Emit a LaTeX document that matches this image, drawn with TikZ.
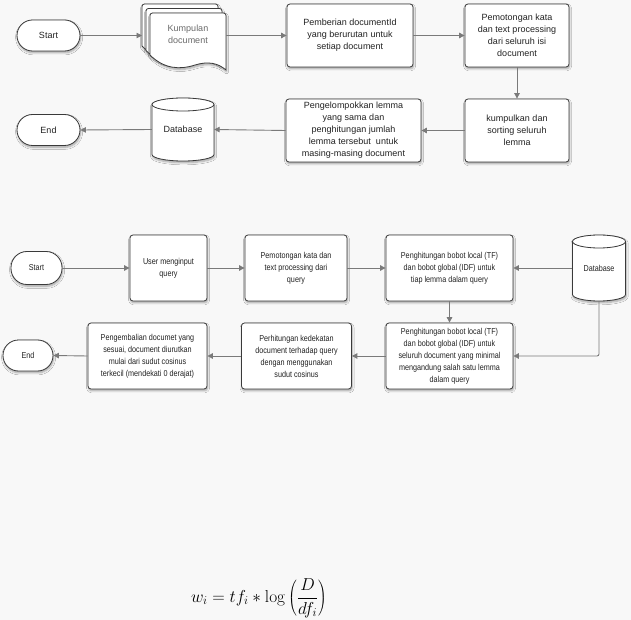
\documentclass[tikz,border=0pt]{standalone}
\usepackage[no-math]{fontspec}
\setmainfont{Liberation Sans}
\newfontfamily\narrowfont[FakeStretch=0.84]{Liberation Sans}
\usetikzlibrary{arrows.meta,shadows.blur,calc}
\definecolor{bgc}{HTML}{F8F8F8}
\definecolor{linec}{HTML}{3A3A3A}
\definecolor{arrc}{HTML}{7A7A7A}
\definecolor{txtc}{HTML}{222222}
\definecolor{graytxt}{HTML}{6A6A6A}
\tikzset{
  myshadow/.style={blur shadow={shadow xshift=0.6pt, shadow yshift=-1.8pt, shadow blur radius=2pt, shadow blur steps=6, shadow opacity=35}},
  procbox/.style={draw=linec, fill=white, line width=0.8pt, rounded corners=3pt, myshadow, align=center, inner sep=1pt, text=txtc},
  topfont/.style={font=\fontsize{9}{12}\selectfont},
  midfont/.style={font=\narrowfont\fontsize{8.6}{12}\selectfont},
  termbox/.style={draw=linec, fill=white, line width=0.8pt, myshadow, align=center, inner sep=0pt, text=txtc},
  conn/.style={draw=arrc, line width=0.9pt, -{Triangle[length=5.5pt,width=5.5pt]}},
  dbfill/.style={draw=linec, fill=white, line width=0.8pt, myshadow},
  dbedge/.style={draw=linec, line width=0.8pt},
  dbnode/.style={inner sep=0pt, align=center, text=txtc}
}
% name, cx, cy, half width, half height, ellipse ry
\newcommand{\mydbshape}[6]{%
  \path[dbfill] (#2-#4,#3-#5+#6) -- (#2-#4,#3+#5-#6)
     arc[start angle=180,end angle=360,x radius=#4pt,y radius=#6pt]
     -- (#2+#4,#3-#5+#6)
     arc[start angle=0,end angle=180,x radius=#4pt,y radius=#6pt] -- cycle;
  \draw[dbedge] (#2-#4,#3-#5+#6) arc[start angle=180,end angle=360,x radius=#4pt,y radius=#6pt];
  \node[dbnode, minimum width=2*#4pt, minimum height=2*#5pt] (#1) at (#2,#3) {};
}
% document page shape: left x, top y
\newcommand{\mydocpage}[2]{%
  \path[dbfill, rounded corners=2.5pt] (#1,#2+42) -- (#1,#2) -- (#1+76,#2) [sharp corners] -- (#1+76,#2+57)
    .. controls (#1+68,#2+50) and (#1+58,#2+48) .. (#1+45,#2+52)
    .. controls (#1+30,#2+57) and (#1+14,#2+56) .. (#1,#2+42) -- cycle;
}
\begin{document}
\begin{tikzpicture}[x=1pt,y=-1pt]
\fill[bgc] (0,0) rectangle (631,620);
\useasboundingbox (0,0) rectangle (631,620);

% ---------------- top flowchart ----------------
\node[termbox, topfont, minimum width=63pt, minimum height=31pt, rounded corners=15.5pt] (start1) at (48.5,35.5) {Start};
\mydocpage{142}{4}
\mydocpage{146}{8.5}
\mydocpage{150}{13}
\node[inner sep=0pt, minimum width=76pt, minimum height=56pt, align=center, text=graytxt, topfont] (docs) at (188,34) {Kumpulan\\document};
\coordinate (docsL) at (142,35.5);
\node[procbox, topfont, minimum width=126pt, minimum height=63pt] (pemberian) at (350,35.5) {Pemberian documentId\\yang berurutan untuk\\setiap document};
\node[procbox, topfont, minimum width=104pt, minimum height=63pt] (potong1) at (517,35.5) {Pemotongan kata\\dan text processing\\dari seluruh isi\\document};
\node[procbox, topfont, minimum width=104pt, minimum height=63pt] (kumpul) at (517,130.5) {kumpulkan dan\\sorting seluruh\\lemma};
\node[procbox, topfont, minimum width=135pt, minimum height=63pt] (kelompok) at (353.5,130.5) {Pengelompokkan lemma\\yang sama dan\\penghitungan jumlah\\lemma tersebut\ \ untuk\\masing-masing document};
\mydbshape{db1}{183}{129.5}{31}{31.5}{6.5}
\node[dbnode, topfont] (db1t) at (db1) {Database};
\node[termbox, topfont, minimum width=63pt, minimum height=31pt, rounded corners=15.5pt] (end1) at (48.5,130) {End};

\draw[conn] (start1.east) -- (docsL);
\draw[conn] (docs.east |- start1) -- (pemberian.west);
\draw[conn] (pemberian.east) -- (potong1.west);
\draw[conn] (potong1.south) -- (kumpul.north);
\draw[conn] (kumpul.west) -- (kelompok.east);
\draw[conn] (kelompok.west) -- (db1.east);
\draw[conn] (db1.west) -- (end1.east);

% ---------------- middle flowchart ----------------
\node[termbox, midfont, minimum width=51pt, minimum height=33pt, rounded corners=16pt] (start2) at (36.5,268) {Start};
\node[procbox, midfont, minimum width=77pt, minimum height=66pt] (user) at (168.5,268) {User menginput\\query};
\node[procbox, midfont, minimum width=102pt, minimum height=66pt] (potong2) at (296,268) {Pemotongan kata dan\\text processing dari\\query};
\node[procbox, midfont, minimum width=127pt, minimum height=66pt] (hitung1) at (449.5,268) {Penghitungan bobot local (TF)\\dan bobot global (IDF) untuk\\tiap lemma dalam query};
\mydbshape{db2}{599}{268}{26.5}{33}{6.5}
\node[dbnode, midfont] (db2t) at (db2) {Database};
\node[procbox, midfont, minimum width=127pt, minimum height=66pt] (hitung2) at (449.5,356) {Penghitungan bobot local (TF)\\dan bobot global (IDF) untuk\\seluruh document yang minimal\\mengandung salah satu lemma\\dalam query};
\node[procbox, midfont, minimum width=110pt, minimum height=66pt] (dekat) at (296.5,356) {Perhitungan kedekatan\\document terhadap query\\dengan menggunakan\\sudut cosinus};
\node[procbox, midfont, minimum width=119pt, minimum height=66pt] (kembali) at (147.5,356) {Pengembalian documet yang\\sesuai, document diurutkan\\mulai dari sudut cosinus\\terkecil (mendekati 0 derajat)};
\node[termbox, midfont, minimum width=50pt, minimum height=31pt, rounded corners=15.5pt] (end2) at (28,355.5) {End};

\draw[conn] (start2.east) -- (user.west);
\draw[conn] (user.east) -- (potong2.west);
\draw[conn] (potong2.east) -- (hitung1.west);
\draw[conn] (db2.west) -- (hitung1.east);
\draw[conn] (hitung1.south) -- (hitung2.north);
\draw[conn, rounded corners=2pt] (db2.south) -- (db2.south |- hitung2.east) -- (hitung2.east);
\draw[conn] (hitung2.west) -- (dekat.east);
\draw[conn] (dekat.west) -- (kembali.east);
\draw[conn] (kembali.west) -- (end2.east);

% ---------------- formula ----------------
\node[inner sep=0pt, font=\fontsize{16.5}{18}\selectfont] (formula) at (259,598) {$\displaystyle w_i = tf_i * \log\left(\frac{D}{df_i}\right)$};
\end{tikzpicture}
\end{document}
